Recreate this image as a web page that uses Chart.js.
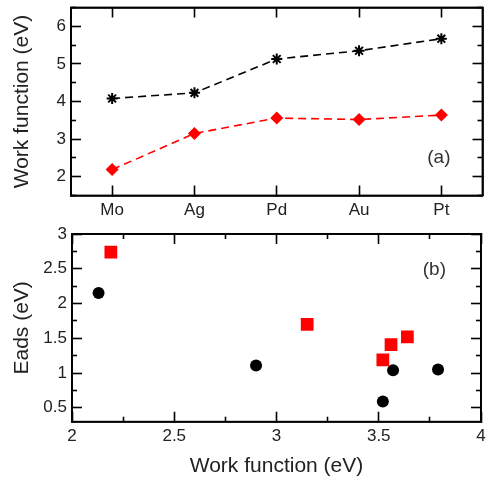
<!DOCTYPE html>
<html>
<head>
<meta charset="utf-8">
<script src="https://cdn.jsdelivr.net/npm/chart.js@4.4.1/dist/chart.umd.min.js"></script>
<style>
  html, body { margin: 0; padding: 0; background: #fff; }
  #wrap { position: relative; width: 490px; height: 479px; }
  canvas { position: absolute; left: 0; }
  #c1 { top: 0; }
  #c2 { top: 225px; }
</style>
</head>
<body>
<div id="wrap">
  <canvas id="c1" width="490" height="225"></canvas>
  <canvas id="c2" width="490" height="254"></canvas>
</div>
<script>
// ---------- data ----------
const metals = ['Mo', 'Ag', 'Pd', 'Au', 'Pt'];
const wfBlack = [4.08, 4.23, 5.13, 5.35, 5.67];
const wfRed = [2.19, 3.15, 3.56, 3.52, 3.64];

const eadsRedX = [2.19, 3.15, 3.52, 3.56, 3.64];
const eadsRedY = [2.74, 1.70, 1.19, 1.41, 1.52];
const eadsBlackX = [2.13, 2.90, 3.52, 3.57, 3.79];
const eadsBlackY = [2.15, 1.11, 0.59, 1.04, 1.05];

const topYTicks = [2, 3, 4, 5, 6];
const botXTicks = [2, 2.5, 3, 3.5, 4];
const botYTicks = [0.5, 1, 1.5, 2, 2.5, 3];

const topYRange = [1.5, 6.5];
const botXRange = [2, 4];
const botYRange = [0.3, 3];

// ---------- style ----------
const FONT = '"Liberation Sans", Arial, Helvetica, sans-serif';
const TXT = '#222222';
const tickFont = { family: FONT, size: 17 };
const titleFont = { family: FONT, size: 21 };
const MAJOR = 10, MINOR = 5;

function minorVals(range, step, majors) {
  const out = [];
  const n0 = Math.ceil((range[0] - 1e-9) / step), n1 = Math.floor((range[1] + 1e-9) / step);
  for (let n = n0; n <= n1; n++) {
    const v = +(n * step).toFixed(6);
    if (!majors.some(m => Math.abs(m - v) < 1e-9)) out.push(v);
  }
  return out;
}

function inGrid(len) {
  return { display: true, drawOnChartArea: false, drawTicks: true, tickLength: -len,
           tickWidth: 1.6, tickColor: '#000', color: 'rgba(0,0,0,0)', offset: false };
}
const frameBorder = { display: true, color: '#000', width: 1.8 };

// an unlabelled axis that only draws inward tick marks (and optionally the frame side)
function markAxis(position, len, withBorder, extra) {
  return Object.assign({
    position: position, display: true, weight: 0,
    grid: inGrid(len),
    border: withBorder ? frameBorder : { display: false },
    ticks: { display: false, autoSkip: false },
    afterFit(s) {
      if (s.isHorizontal()) s.height = 0; else s.width = 0;
      s.paddingLeft = 0; s.paddingRight = 0; s.paddingTop = 0; s.paddingBottom = 0;
    }
  }, extra);
}
function linearTicks(range, values) {
  return {
    type: 'linear', min: range[0], max: range[1],
    afterBuildTicks(s) { s.ticks = values.map(v => ({ value: v })); }
  };
}

// panel label "(a)" / "(b)"
const PANEL = {
  c1: { label: '(a)', fromRight: 32, fromBottom: 38 },
  c2: { label: '(b)', fromRight: 35, fromTop: 36 }
};
const panelLabel = {
  id: 'panelLabel',
  afterDraw(chart) {
    const P = PANEL[chart.canvas.id];
    const ctx = chart.ctx, a = chart.chartArea;
    ctx.save();
    ctx.strokeStyle = '#000';
    ctx.lineWidth = 1.8;
    ctx.strokeRect(a.left, a.top, a.right - a.left, a.bottom - a.top);
    ctx.fillStyle = '#333';
    ctx.font = '19px ' + FONT;
    ctx.textAlign = 'right';
    ctx.textBaseline = 'middle';
    const y = P.fromTop != null ? a.top + P.fromTop : a.bottom - P.fromBottom;
    ctx.fillText(P.label, a.right - P.fromRight, y);
    ctx.restore();
  }
};

// ---------- top panel ----------
new Chart(document.getElementById('c1'), {
  type: 'line',
  data: {
    labels: metals,
    datasets: [
      {
        data: wfBlack, xAxisID: 'x', yAxisID: 'y',
        borderColor: '#000', borderWidth: 1.6, borderDash: [8, 5],
        pointStyle: 'star', pointRadius: 5.5, pointBorderWidth: 2,
        pointBorderColor: '#000', pointBackgroundColor: '#000',
        fill: false, tension: 0
      },
      {
        data: wfRed, xAxisID: 'x', yAxisID: 'y',
        borderColor: '#ff0000', borderWidth: 1.6, borderDash: [8, 5],
        pointStyle: 'rectRot', pointRadius: 6.5, pointBorderWidth: 0,
        pointBorderColor: '#ff0000', pointBackgroundColor: '#ff0000',
        fill: false, tension: 0
      }
    ]
  },
  options: {
    responsive: false, animation: false, devicePixelRatio: 1,
    layout: { padding: { top: 7, right: 5, left: 10, bottom: 0 } },
    plugins: { legend: { display: false }, tooltip: { enabled: false } },
    scales: {
      x: {
        type: 'category', offset: true, position: 'bottom', weight: 1,
        grid: inGrid(MAJOR), border: frameBorder,
        ticks: { font: tickFont, color: TXT, padding: 5 + MAJOR, maxRotation: 0, autoSkip: false },
        afterFit(s) { s.height = 29.5; s.paddingLeft = 0; s.paddingRight = 0; }
      },
      xTop: markAxis('top', MAJOR, true, { type: 'category', offset: true }),
      y: Object.assign(linearTicks(topYRange, topYTicks), {
        position: 'left', weight: 1,
        grid: inGrid(MAJOR), border: frameBorder,
        ticks: { font: tickFont, color: TXT, padding: 5 + MAJOR, autoSkip: false, callback: v => String(v) },
        title: { display: true, text: 'Work function (eV)', font: titleFont, color: TXT, padding: 0 },
        afterFit(s) { s.width = 61; s.paddingTop = 0; s.paddingBottom = 0; }
      }),
      yMinL: markAxis('left', MINOR, false, linearTicks(topYRange, minorVals(topYRange, 0.5, topYTicks))),
      yRight: markAxis('right', MAJOR, true, linearTicks(topYRange, topYTicks)),
      yMinR: markAxis('right', MINOR, false, linearTicks(topYRange, minorVals(topYRange, 0.5, topYTicks)))
    }
  },
  plugins: [panelLabel]
});

// ---------- bottom panel ----------
new Chart(document.getElementById('c2'), {
  type: 'scatter',
  data: {
    datasets: [
      {
        data: eadsRedX.map((x, i) => ({ x: x, y: eadsRedY[i] })), xAxisID: 'x', yAxisID: 'y',
        pointStyle: 'rect', pointRadius: 9, pointBorderWidth: 0,
        pointBackgroundColor: '#ff0000', pointBorderColor: '#ff0000'
      },
      {
        data: eadsBlackX.map((x, i) => ({ x: x, y: eadsBlackY[i] })), xAxisID: 'x', yAxisID: 'y',
        pointStyle: 'circle', pointRadius: 6, pointBorderWidth: 0,
        pointBackgroundColor: '#000', pointBorderColor: '#000'
      }
    ]
  },
  options: {
    responsive: false, animation: false, devicePixelRatio: 1,
    layout: { padding: { top: 9, right: 5, left: 10, bottom: 0 } },
    plugins: { legend: { display: false }, tooltip: { enabled: false } },
    scales: {
      x: Object.assign(linearTicks(botXRange, botXTicks), {
        position: 'bottom', weight: 1,
        grid: inGrid(MAJOR), border: frameBorder,
        ticks: { font: tickFont, color: TXT, padding: 4 + MAJOR, maxRotation: 0, autoSkip: false, callback: v => String(v) },
        title: { display: true, text: 'Work function (eV)', font: titleFont, color: TXT, padding: 0 },
        afterFit(s) { s.height = 57.3; s.paddingLeft = 0; s.paddingRight = 0; }
      }),
      xMinB: markAxis('bottom', MINOR, false, linearTicks(botXRange, minorVals(botXRange, 0.25, botXTicks))),
      xTop: markAxis('top', MAJOR, true, linearTicks(botXRange, botXTicks)),
      xMinT: markAxis('top', MINOR, false, linearTicks(botXRange, minorVals(botXRange, 0.25, botXTicks))),
      y: Object.assign(linearTicks(botYRange, botYTicks), {
        position: 'left', weight: 1,
        grid: inGrid(MAJOR), border: frameBorder,
        ticks: { font: tickFont, color: TXT, padding: 5 + MAJOR, autoSkip: false, callback: v => String(v) },
        title: { display: true, text: 'Eads (eV)', font: titleFont, color: TXT, padding: 0 },
        afterFit(s) { s.width = 62; s.paddingTop = 0; s.paddingBottom = 0; }
      }),
      yMinL: markAxis('left', MINOR, false, linearTicks(botYRange, minorVals(botYRange, 0.25, botYTicks))),
      yRight: markAxis('right', MAJOR, true, linearTicks(botYRange, botYTicks)),
      yMinR: markAxis('right', MINOR, false, linearTicks(botYRange, minorVals(botYRange, 0.25, botYTicks)))
    }
  },
  plugins: [panelLabel]
});
</script>
</body>
</html>
